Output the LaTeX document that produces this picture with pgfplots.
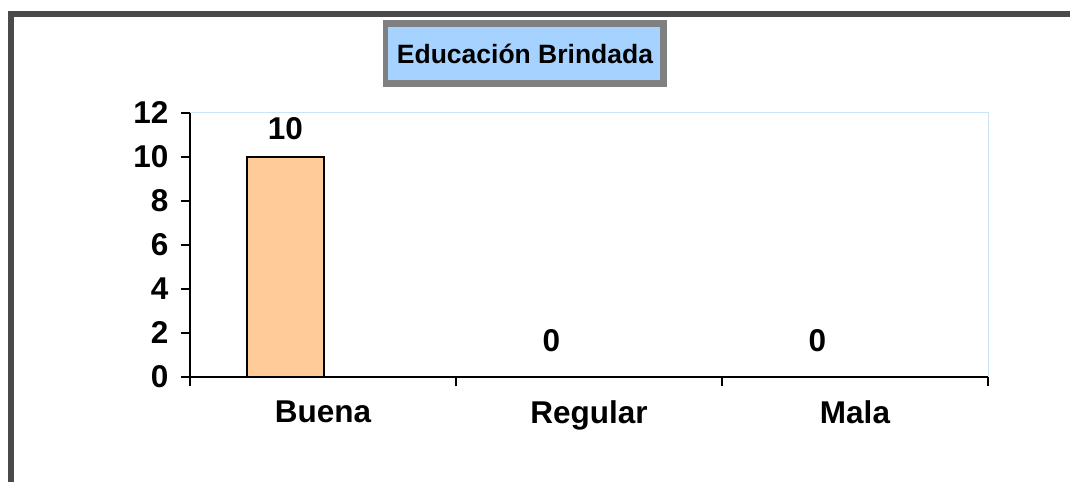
\documentclass[border=0pt]{standalone}
\usepackage{fontspec}
\setmainfont{Liberation Sans}
\usepackage{pgfplots}
\pgfplotsset{compat=1.18}
\definecolor{barfill}{HTML}{FFCC99}
\definecolor{titleblue}{HTML}{A6D2FF}
\definecolor{plotedge}{HTML}{CCE4FA}
\definecolor{framegray}{HTML}{4A4A4A}
\begin{document}
\begin{tikzpicture}
\path[use as bounding box] (-190pt,-105pt) rectangle (880pt,377pt);
\fill[white] (-190pt,-105pt) rectangle (880pt,377pt);
% outer frame bands (top and left)
\fill[framegray] (-182pt,366pt) rectangle (880pt,360pt);
\fill[framegray] (-182pt,366pt) rectangle (-176pt,-105pt);
% title box
\fill[gray] (193pt,357pt) rectangle (477pt,290pt);
\fill[titleblue] (198pt,350pt) rectangle (470pt,297pt);
\node[font=\fontsize{26.5}{30}\selectfont\bfseries] at (335pt,323pt) {Educación Brindada};
\begin{axis}[
  scale only axis,
  width=798pt, height=264pt,
  xmin=-0.5, xmax=2.5,
  ymin=0, ymax=12,
  ytick={0,2,4,6,8,10,12},
  xtick={-0.5,0.5,1.5,2.5},
  xticklabels={},
  extra x ticks={0,1,2},
  extra x tick labels={Buena,Regular,Mala},
  extra x tick style={major tick length=0pt, tick label style={yshift=-20pt}},
  y tick label style={xshift=-9pt},
  axis x line*=bottom,
  axis y line*=left,
  axis line style={black, line width=1.5pt, -},
  tick style={black, line width=1.5pt},
  major tick length=9pt,
  tick align=outside,
  /pgf/number format/assume math mode=true,
  tick label style={font=\fontsize{31.5}{36}\selectfont\bfseries},
  clip=false,
  ybar,
  bar width=77pt,
  bar shift=-37.5pt,
  nodes near coords,
  nodes near coords style={font=\fontsize{31.5}{36}\selectfont\bfseries, anchor=south, yshift=13pt},
]
\draw[plotedge, line width=1pt] (rel axis cs:0,1) -- (rel axis cs:1,1) -- (rel axis cs:1,0);
\addplot[fill=barfill, draw=black, line width=1.5pt] coordinates {(0,10)};
\addplot[fill=barfill, draw=black, line width=1.5pt, nodes near coords style={yshift=8pt}] coordinates {(1,0) (2,0)};
\end{axis}
\end{tikzpicture}
\end{document}
